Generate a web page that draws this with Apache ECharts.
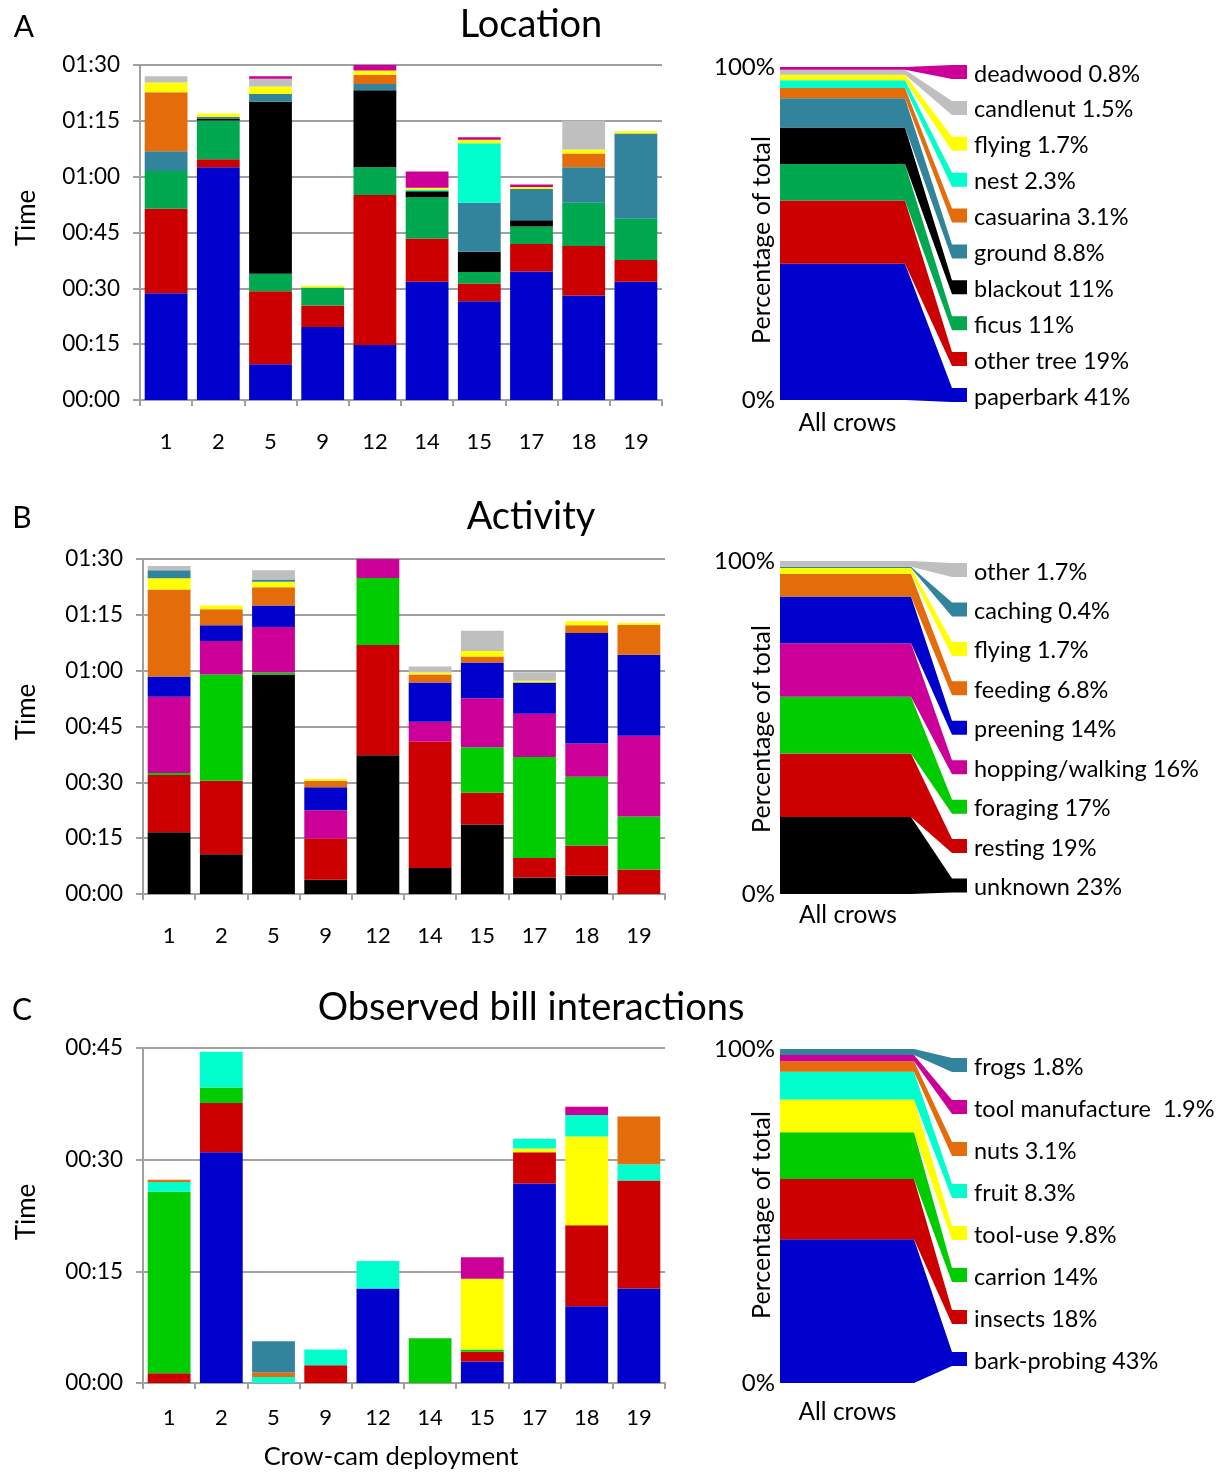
<!DOCTYPE html>
<html><head><meta charset="utf-8">
<script src="https://cdn.jsdelivr.net/npm/echarts@6/dist/echarts.min.js"></script>
<style>html,body{margin:0;padding:0;background:#fff}#c{width:1230px;height:1472px}</style>
</head><body><div id="c"></div>
<script>
// ---------- DATA ----------
const categories = ['1','2','5','9','12','14','15','17','18','19'];

// Panel A: Location (minutes), stacked bottom -> top
const locNames = ['paperbark','other tree','ficus','blackout','ground','casuarina','nest','flying','candlenut','deadwood'];
const paperbark = [28.7, 62.5, 9.6, 19.6, 14.8, 31.8, 26.5, 34.5, 28.1, 31.8];
const otherTree = [22.7, 2.2, 19.6, 5.8, 40.3, 11.6, 4.8, 7.4, 13.3, 5.8];
const ficus     = [10.1, 10.4, 4.7, 4.8, 7.4, 11.1, 3.1, 4.7, 11.6, 11.1];
const blackout  = [0, 0.5, 46.2, 0, 20.7, 1.6, 5.4, 1.7, 0, 0];
const ground    = [5.3, 0.5, 2.1, 0, 1.7, 0, 13.2, 8.4, 9.5, 22.9];
const casuarina = [15.9, 0, 0, 0, 2.5, 0, 0, 0, 3.7, 0];
const nest      = [0, 0, 0, 0, 0, 0.4, 16.0, 0, 0, 0];
const flyingLoc = [2.6, 0.9, 2.0, 0.5, 1.1, 0.5, 0.9, 0.5, 1.1, 0.6];
const candlenut = [1.7, 0, 2.1, 0, 0, 0, 0, 0, 7.7, 0];
const deadwood  = [0, 0, 0.7, 0, 1.5, 4.4, 0.7, 0.7, 0, 0];
const locPct    = [41, 19, 11, 11, 8.8, 3.1, 2.3, 1.7, 1.5, 0.8];

// Panel B: Activity (minutes)
const actNames = ['unknown','resting','foraging','hopping/walking','preening','feeding','flying','caching','other'];
const unknown   = [16.6, 10.7, 59.0, 3.8, 37.3, 7.0, 18.7, 4.4, 4.9, 0];
const resting   = [15.4, 19.7, 0, 11.1, 29.6, 33.9, 8.5, 5.3, 8.1, 6.6];
const foraging  = [0.5, 28.6, 0.5, 0, 18.0, 0, 12.2, 27.1, 18.5, 14.2];
const hopping   = [20.5, 9.0, 12.2, 7.6, 5.1, 5.4, 13.2, 11.6, 8.9, 21.7];
const preening  = [5.4, 4.2, 5.8, 6.2, 0, 10.5, 9.6, 8.4, 29.7, 21.8];
const feeding   = [23.4, 4.3, 4.9, 1.7, 0, 2.2, 1.6, 0, 2.1, 8.0];
const flyingAct = [3.0, 1.0, 1.5, 0.5, 0, 0.5, 1.5, 0.5, 1.1, 0.5];
const caching   = [2.2, 0, 0.6, 0, 0, 0, 0, 0, 0, 0];
const otherAct  = [1.1, 0, 2.5, 0, 0, 1.6, 5.4, 2.3, 0, 0];
const actPct    = [23, 19, 17, 16, 14, 6.8, 1.7, 0.4, 1.7];

// Panel C: Observed bill interactions (minutes)
const billNames = ['bark-probing','insects','carrion','tool-use','fruit','nuts','tool manufacture ','frogs'];
const barkProbing = [0, 31.0, 0, 0, 12.7, 0, 2.9, 26.8, 10.3, 12.7];
const insects     = [1.3, 6.6, 0, 2.4, 0, 0, 1.3, 4.2, 10.9, 14.5];
const carrion     = [24.4, 2.1, 0, 0, 0, 6.0, 0.3, 0, 0, 0];
const toolUse     = [0, 0, 0, 0, 0, 0, 9.5, 0.5, 11.9, 0];
const fruit       = [1.3, 4.8, 0.8, 2.1, 3.7, 0, 0, 1.3, 2.9, 2.2];
const nuts        = [0.3, 0, 0.6, 0, 0, 0, 0, 0, 0, 6.4];
const toolManuf   = [0, 0, 0, 0, 0, 0, 2.9, 0, 1.1, 0];
const frogs       = [0, 0, 4.2, 0, 0, 0, 0, 0, 0, 0];
const billPct     = [43, 18, 14, 9.8, 8.3, 3.1, 1.9, 1.8];

// ---------- STYLE ----------
const BLUE='#0000CC', RED='#CC0000', GREEN_A='#00A84F', GREEN='#00CC00', BLACK='#000000',
      TEAL='#31849B', ORANGE='#E46C0A', CYAN='#00FFCC', YELLOW='#FFFF00', GREY='#BFBFBF', MAGENTA='#CC0099';
const locColors  = [BLUE, RED, GREEN_A, BLACK, TEAL, ORANGE, CYAN, YELLOW, GREY, MAGENTA];
const actColors  = [BLACK, RED, GREEN, MAGENTA, BLUE, ORANGE, YELLOW, TEAL, GREY];
const billColors = [BLUE, RED, GREEN, YELLOW, CYAN, ORANGE, MAGENTA, TEAL];
const FONT = 'Lato';
const AX = '#A0A0A0';

const locSeries  = [paperbark, otherTree, ficus, blackout, ground, casuarina, nest, flyingLoc, candlenut, deadwood];
const actSeries  = [unknown, resting, foraging, hopping, preening, feeding, flyingAct, caching, otherAct];
const billSeries = [barkProbing, insects, carrion, toolUse, fruit, nuts, toolManuf, frogs];

function pad(n){ return (n<10?'0':'') + n; }
function timeFmt(v){ return pad(Math.floor(v/60)) + ':' + pad(v%60); }

function barX(gi, margin){
  return {type:'category', gridIndex:gi, data:categories, boundaryGap:true,
    axisLine:{show:true, lineStyle:{color:AX, width:2}},
    axisTick:{show:true, length:6, lineStyle:{color:AX, width:2}},
    axisLabel:{fontFamily:FONT, fontSize:22, color:'#000', margin:margin}};
}
function barY(gi, max){
  return {type:'value', gridIndex:gi, min:0, max:max, interval:15,
    axisLine:{show:true, lineStyle:{color:AX, width:2}},
    axisTick:{show:true, length:7, lineStyle:{color:AX, width:2}},
    splitLine:{show:true, lineStyle:{color:AX, width:2}},
    axisLabel:{fontFamily:FONT, fontSize:22.5, color:'#000', margin:20, formatter:timeFmt}};
}
function pctX(gi, margin, padL){
  return {type:'category', gridIndex:gi, data:['All crows'], boundaryGap:true,
    axisLine:{show:false}, axisTick:{show:false},
    axisLabel:{fontFamily:FONT, fontSize:24.5, color:'#000', margin:margin, padding:[0,0,0,padL]}};
}
function pctY(gi){
  return {type:'value', gridIndex:gi, min:0, max:100, interval:100,
    axisLine:{show:false}, axisTick:{show:false}, splitLine:{show:false},
    axisLabel:{fontFamily:FONT, fontSize:24, color:'#000', margin:5, formatter:v=>v+'%'}};
}
function bars(arrs, names, colors, gi, stack){
  return arrs.map((d,i)=>({type:'bar', name:names[i], data:d, stack:stack,
    xAxisIndex:gi, yAxisIndex:gi, barCategoryGap:'18%', itemStyle:{color:colors[i]},
    emphasis:{disabled:true}, animation:false}));
}
function fan(values, labels, colors, gi, lay){
  const total = values.reduce((a,b)=>a+b,0);
  const n = values.length;
  return {type:'custom', xAxisIndex:gi, yAxisIndex:gi, clip:false, animation:false,
    data: values.map(v=>[0,v]),
    renderItem: function(params, api){
      const i = params.dataIndex;
      let cum = 0; for (let j=0;j<i;j++) cum += values[j];
      const lo = cum/total*100, hi = (cum+values[i])/total*100;
      const pLo = api.coord([0, lo]), pHi = api.coord([0, hi]);
      const bw = api.size([1,0])[0];
      const x0 = pLo[0]-bw/2, x1 = pLo[0]+bw/2;
      const cs = params.coordSys;
      const first = cs.y + lay.padTop, last = cs.y + cs.height - lay.padBottom;
      const k = n-1-i;
      const cy = first + k*(last-first)/(n-1);
      const bt = cy - lay.boxH/2, bb = cy + lay.boxH/2;
      const bx = lay.boxX, bx2 = lay.boxX + lay.boxW;
      return {type:'group', children:[
        {type:'polygon', shape:{points:[[x0,pLo[1]],[x1,pLo[1]],[bx,bb],[bx2,bb],[bx2,bt],[bx,bt],[x1,pHi[1]],[x0,pHi[1]]]},
          style:{fill:colors[i]}},
        {type:'text', x:lay.textX, y:cy+2, style:{text:labels[i]+' '+values[i]+'%', fill:'#000',
          font:'23.5px '+FONT, textAlign:'left', textVerticalAlign:'middle', align:'left', verticalAlign:'middle'}}
      ]};
    }};
}

function gtext(text, x, y, size, rot){
  return {type:'text', x:x, y:y, rotation:rot||0, silent:true,
    style:{text:text, fill:'#000', font:size+'px '+FONT, textAlign:'center', textVerticalAlign:'middle', align:'center', verticalAlign:'middle'}};
}

const layA = {padTop:5, padBottom:5, boxH:14, boxX:952, boxW:15, textX:974};
const layB = {padTop:9, padBottom:8.5, boxH:14, boxX:952, boxW:15, textX:974};
const layC = {padTop:16, padBottom:24, boxH:14, boxX:952, boxW:15, textX:974};

const option = {
  animation:false,
  backgroundColor:'#fff',
  grid:[
    {left:140, top:65,   width:522, height:335},
    {left:780, top:67,   width:125, height:333},
    {left:143, top:559,  width:522, height:335},
    {left:780, top:561,  width:131, height:333},
    {left:143, top:1048, width:522, height:335},
    {left:780, top:1049, width:134, height:334}
  ],
  xAxis:[barX(0,31), pctX(1,11,10), barX(2,31), pctX(3,9,5), barX(4,24), pctX(5,17,1)],
  yAxis:[barY(0,90), pctY(1), barY(2,90), pctY(3), barY(4,45), pctY(5)],
  series:[].concat(
    bars(locSeries, locNames, locColors, 0, 'A'),
    [fan(locPct, locNames, locColors, 1, layA)],
    bars(actSeries, actNames, actColors, 2, 'B'),
    [fan(actPct, actNames, actColors, 3, layB)],
    bars(billSeries, billNames, billColors, 4, 'C'),
    [fan(billPct, billNames, billColors, 5, layC)]
  ),
  graphic:[
    gtext('A', 24, 27, 30), gtext('B', 22, 518, 30), gtext('C', 22, 1010, 30),
    gtext('Location', 531, 25, 38), gtext('Activity', 531, 517, 38), gtext('Observed bill interactions', 531, 1008, 38),
    gtext('Time', 27, 218, 26, Math.PI/2), gtext('Time', 27, 712, 26, Math.PI/2), gtext('Time', 27, 1212, 26, Math.PI/2),
    gtext('Percentage of total', 762, 240, 25, Math.PI/2), gtext('Percentage of total', 762, 729, 25, Math.PI/2),
    gtext('Percentage of total', 762, 1215, 25, Math.PI/2),
    gtext('Crow-cam deployment', 391, 1457, 25.5)
  ]
};
const chart = echarts.init(document.getElementById('c'), null, {renderer:'canvas'});
chart.setOption(option);
</script>
</body></html>
